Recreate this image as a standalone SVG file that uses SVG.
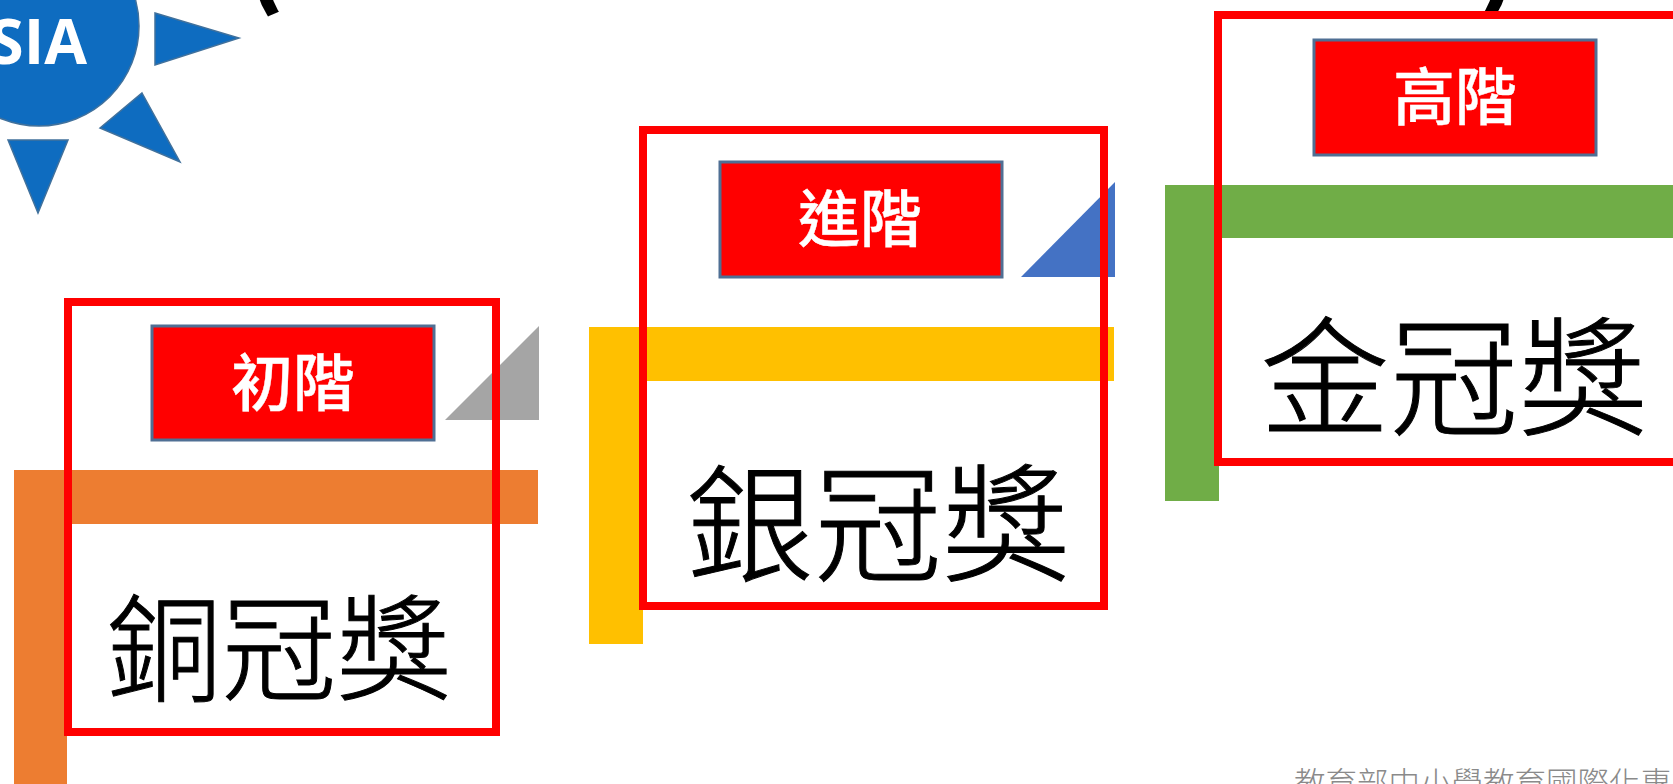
<svg xmlns="http://www.w3.org/2000/svg" width="1673" height="784" viewBox="0 0 1673 784">
<style>
.cjk{font-family:"Noto Sans CJK TC","Noto Sans CJK SC",sans-serif}
.frame{fill:none;stroke:#ff0000;stroke-width:8}
.badge{fill:#ff0000;stroke:#4f6f94;stroke-width:3}
.bt{fill:#fff;stroke:#fff;stroke-width:.4;font-size:62px;font-weight:500;text-anchor:middle}
.big{fill:#000;stroke:#000;stroke-width:1;font-weight:300;text-anchor:middle}
.ray{fill:#0e6cc0;stroke:#41719c;stroke-width:1.5}
.par{fill:#000;stroke:#000;stroke-width:4;font-size:80px;font-weight:700}
</style>
<rect width="1673" height="784" fill="#fff"/>
<g id="logo">
<circle cx="39" cy="26" r="100" fill="#0e6cc0" stroke="#41719c" stroke-width="1.5"/>
<text x="87" y="64" text-anchor="end" font-family="'Open Sans',sans-serif" font-weight="700" font-size="62" fill="#fff">SIA</text>
<polygon class="ray" points="155,13 239,38 155,65"/>
<polygon class="ray" points="142,93 180,162 100,128"/>
<polygon class="ray" points="8,140 68,140 38,213"/>
</g>
<g id="title">
<text class="cjk par" x="250" y="-2">(</text>
<text class="cjk par" x="1483" y="-2">)</text>
</g>
<g id="bronze">
<polygon points="445,420 539,420 539,326" fill="#a5a5a5"/>
<path d="M14 470H538V524H67V784H14Z" fill="#ed7d31"/>
<rect class="badge" x="152" y="326" width="282" height="114"/>
<text class="cjk bt" x="293" y="406">初階</text>
<text class="cjk big" x="279" y="691" font-size="115">銅冠獎</text>
<rect class="frame" x="68" y="302" width="428" height="430"/>
</g>
<g id="silver">
<polygon points="1021,277 1115,277 1115,182" fill="#4472c4"/>
<path d="M589 327H1114V381H643V644H589Z" fill="#ffc000"/>
<rect class="badge" x="720" y="162" width="282" height="115"/>
<text class="cjk bt" x="860" y="242">進階</text>
<text class="cjk big" x="878" y="572" font-size="128">銀冠獎</text>
<rect class="frame" x="643" y="130" width="461" height="476"/>
</g>
<g id="gold">
<path d="M1165 185H1673V238H1219V501H1165Z" fill="#70ad47"/>
<rect class="badge" x="1314" y="40" width="282" height="115"/>
<text class="cjk bt" x="1455" y="120">高階</text>
<text class="cjk big" x="1454" y="426" font-size="129">金冠獎</text>
<rect class="frame" x="1218" y="15" width="470" height="447"/>
</g>
<g id="connectors"></g>
<text id="footer" class="cjk" x="1294" y="795" font-size="31.5" font-weight="300" fill="#8a8a8a">教育部中小學教育國際化專</text>
</svg>
